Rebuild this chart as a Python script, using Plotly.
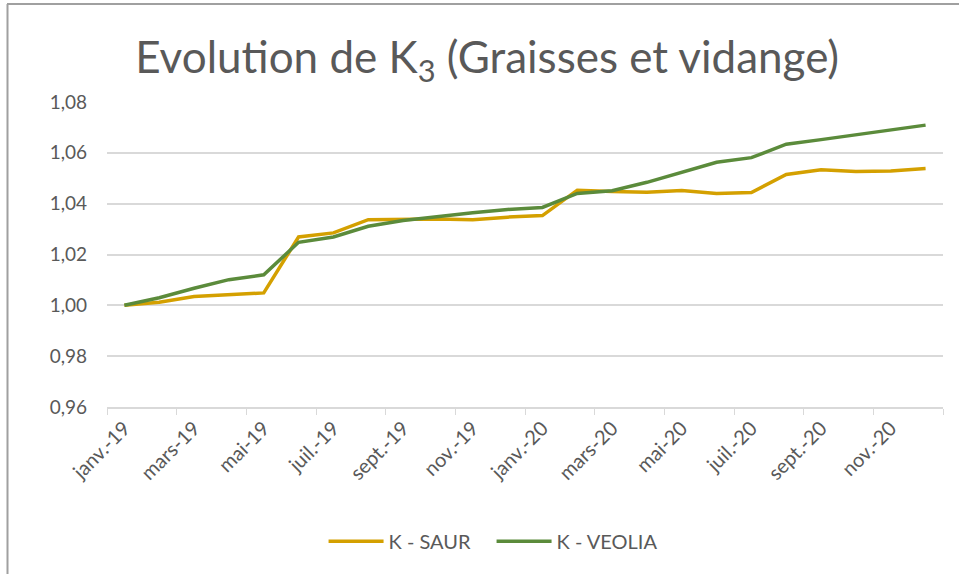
import plotly.graph_objects as go

months = ["janv.-19", "févr.-19", "mars-19", "avr.-19", "mai-19", "juin-19",
          "juil.-19", "août-19", "sept.-19", "oct.-19", "nov.-19", "déc.-19",
          "janv.-20", "févr.-20", "mars-20", "avr.-20", "mai-20", "juin-20",
          "juil.-20", "août-20", "sept.-20", "oct.-20", "nov.-20", "déc.-20"]

k_saur = [1.0000, 1.0012, 1.0035, 1.0043, 1.0049, 1.0269, 1.0285, 1.0337,
          1.0340, 1.0340, 1.0337, 1.0347, 1.0353, 1.0453, 1.0448, 1.0445,
          1.0452, 1.0440, 1.0444, 1.0515, 1.0533, 1.0527, 1.0529, 1.0538]

k_veolia = [1.0000, 1.0030, 1.0067, 1.0101, 1.0120, 1.0248, 1.0269, 1.0311,
            1.0334, 1.0350, 1.0364, 1.0377, 1.0385, 1.0440, 1.0451, 1.0484,
            1.0522, 1.0563, 1.0581, 1.0634, 1.0652, 1.0672, 1.0692, 1.0709]

y_ticks = [0.96, 0.98, 1.00, 1.02, 1.04, 1.06, 1.08]

xi = list(range(len(months)))
FONT = "Lato, 'Open Sans', sans-serif"
GRAY = "#595959"

fig = go.Figure()
fig.add_trace(go.Scatter(x=xi, y=k_saur, mode="lines", name="K - SAUR",
                         line=dict(color="#D4A000", width=3.5)))
fig.add_trace(go.Scatter(x=xi, y=k_veolia, mode="lines", name="K - VEOLIA",
                         line=dict(color="#5B8B3B", width=3.5)))

fig.update_layout(
    width=959, height=574,
    margin=dict(l=107, r=16, t=102, b=167),
    paper_bgcolor="white", plot_bgcolor="white",
    separators=", ",
    font=dict(family=FONT, color=GRAY, size=19),
    title=dict(text="Evolution de K<sub>3</sub> (Graisses et vidange)",
               x=0.508, xanchor="center", y=0.9, yanchor="middle",
               font=dict(family=FONT, size=44, color=GRAY)),
    showlegend=True,
    legend=dict(orientation="h", x=0.46, xanchor="center", y=-0.44, yanchor="middle",
                itemwidth=55, entrywidth=98,
                font=dict(size=20, color=GRAY)),
    xaxis=dict(range=[-0.5, len(months) - 0.5],
               tickmode="array", tickvals=xi[::2], ticktext=months[::2],
               tickangle=-45, ticks="", showgrid=False, zeroline=False,
               showline=True, linecolor="#D9D9D9", linewidth=1.5,
               minor=dict(tick0=-0.5, dtick=2, ticks="outside", ticklen=6,
                          tickcolor="#D9D9D9", showgrid=False),
               tickfont=dict(size=20, color=GRAY)),
    yaxis=dict(range=[0.96, 1.08], tickmode="array", tickvals=y_ticks,
               tickformat=".2f", showgrid=True, gridcolor="#D9D9D9", gridwidth=1.5,
               zeroline=False, showline=False, ticks="", ticklabelstandoff=19,
               tickfont=dict(size=19, color=GRAY)),
)

# chart frame (top and left edges as seen in reference)
fig.add_shape(type="line", xref="paper", yref="paper", x0=-100/836, x1=852/836,
              y0=1 + 98/305, y1=1 + 98/305, line=dict(color="#A0A0A0", width=2))
fig.add_shape(type="line", xref="paper", yref="paper", x0=-99.5/836, x1=-99.5/836,
              y0=-0.6, y1=1 + 98/305, line=dict(color="#A0A0A0", width=2))

fig.write_html("out.html", config={"displayModeBar": False},
               post_script="document.body.style.margin='0';document.body.style.padding='0';")
